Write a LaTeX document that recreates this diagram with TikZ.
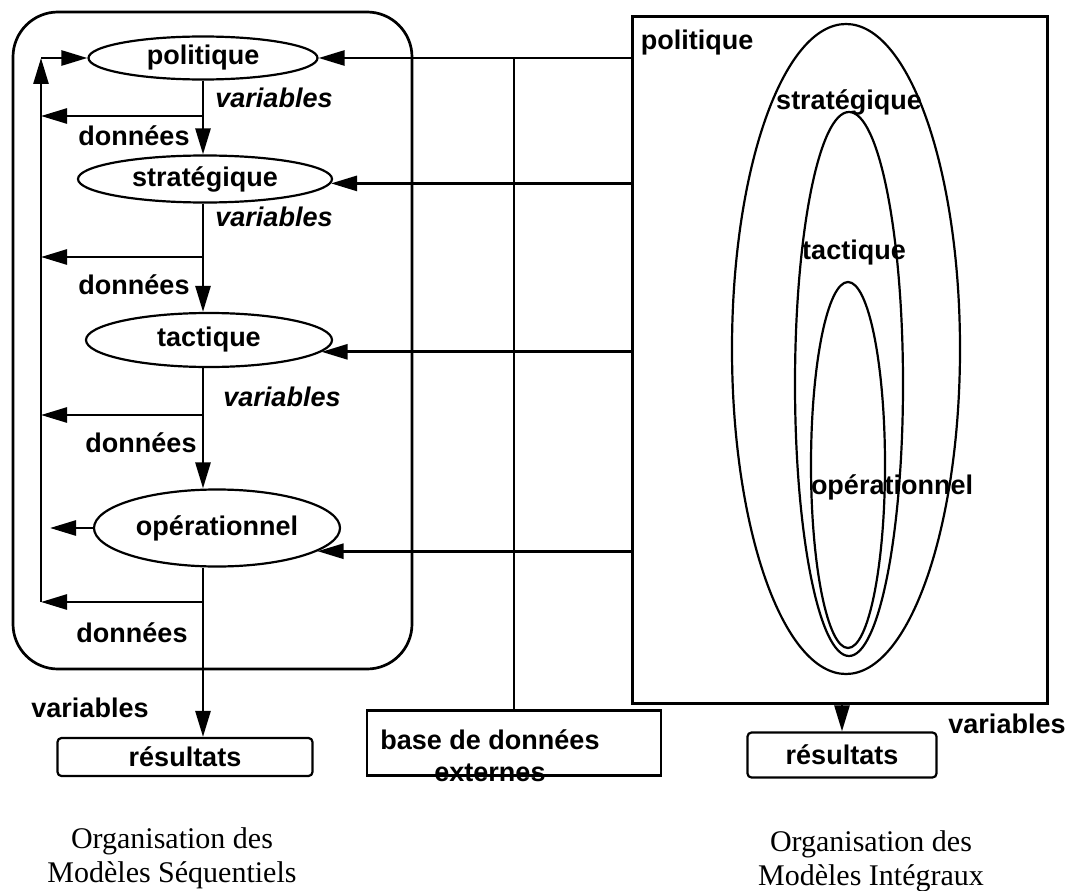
\documentclass[tikz,border=0pt]{standalone}
\usepackage{fontspec}
\setmainfont{Liberation Sans}
\newfontfamily\captfont{Liberation Serif}
\usetikzlibrary{shapes,arrows.meta}
\tikzstyle{lvl}=[draw, ellipse, line width=2.2pt, inner sep=0pt]
\tikzstyle{res}=[draw, rounded corners=4pt, line width=2.2pt, inner sep=0pt]
\tikzstyle{vlab}=[font=\fontsize{27}{30}\selectfont\bfseries\itshape, inner sep=0pt]
\tikzstyle{lab}=[inner sep=0pt]
\tikzstyle{capt}=[font=\fontsize{30}{34}\selectfont\captfont, align=center]
\tikzstyle{arr}=[->, line width=2.7pt]

\begin{document}
\begin{tikzpicture}[x=1pt,y=-1pt,>={Triangle[length=26pt,width=15pt]},
  font=\fontsize{27}{30}\selectfont\bfseries]
\useasboundingbox (0,0) rectangle (1074,891);

% modeles sequentiels
\draw[line width=2.7pt, rounded corners=45pt] (13,12) rectangle (412,669);
\node[lvl, minimum width=229pt, minimum height=43pt] at (203,58) (pol) {politique};
\node[lvl, minimum width=254pt, minimum height=47pt] at (205,179) (strat) {stratégique};
\node[lvl, minimum width=246pt, minimum height=54pt] at (209,340) (tact) {tactique};
\node[lvl, minimum width=246pt, minimum height=77pt] at (217,528) (opera) {opérationnel};
\node[res, minimum width=255pt, minimum height=38pt] at (185,757) (lres) {résultats};

\draw[arr] (pol.south) -- (pol.south |- strat.north);
\draw[arr] (pol.south |- strat.south) -- (pol.south |- tact.north);
\draw[arr] (pol.south |- tact.south) -- (pol.south |- opera.north);
\draw[arr] (pol.south |- opera.south) -- (pol.south |- lres.north);

\coordinate (b1) at (203,116);
\coordinate (b2) at (203,257);
\coordinate (b3) at (203,415);
\coordinate (b4) at (203,602);
\coordinate (fb) at (41,602);
\coordinate (optip) at (50,528);
\draw[arr] (b1) -- (b1 -| fb);
\draw[arr] (b2) -- (b2 -| fb);
\draw[arr] (b3) -- (b3 -| fb);
\draw[arr] (b4) -- (fb);
\draw[arr] (fb) -- (fb |- pol.west);
\draw[arr] (fb |- pol.west) -- (pol.west);
\draw[arr] (opera.west) -- (optip);

\node[vlab] at (274,98) (v1) {variables};
\node[vlab] at (274,217) (v2) {variables};
\node[vlab] at (282,397) (v3) {variables};
\node[lab] at (134,136) (d1) {données};
\node[lab] at (134,285) (d2) {données};
\node[lab] at (141,443) (d3) {données};
\node[lab] at (132,633) (d4) {données};
\node[lab] at (90,708) (v4) {variables};

% base de donnees externes
\node[lab, align=center, font=\fontsize{27}{32}\selectfont\bfseries] at (490,756) (dbtext) {base de données\\externes};
\node[draw, line width=2.7pt, minimum width=294pt, minimum height=65pt] at (514,743) (extdb) {};

% modeles integraux
\node[draw, line width=2.7pt, minimum width=415pt, minimum height=687pt] at (840,360) (rbox) {};
\draw[line width=2.2pt] (846,349) ellipse [x radius=114, y radius=325];
\draw[line width=2.2pt] (849,384) ellipse [x radius=54, y radius=272];
\draw[line width=2.2pt] (848,465) ellipse [x radius=37, y radius=183];
\node[lab] at (697,43) (rpol) {politique};
\node[lab] at (849,102) (rstrat) {stratégique};
\node[lab] at (854,253) (rtact) {tactique};
\node[lab] at (892,487) (ropera) {opérationnel};
\node[res, minimum width=189pt, minimum height=45pt] at (842,755) (rres) {résultats};
\node[lab] at (1007,724) (v5) {variables};
\draw[arr] (rres.north |- rbox.south) -- (rres.north);

\draw[line width=2.2pt] (extdb.north) -- (extdb.north |- pol.east);
\draw[arr] (rbox.west |- pol.east) -- (pol.east);
\draw[arr] (rbox.west |- strat.-2) -- (strat.-2);
\draw[arr] (rbox.west |- tact.-6) -- (tact.-6);
\draw[arr] (rbox.west |- opera.-13) -- (opera.-13);

\node[capt] at (172,858) (cseq) {Organisation des\\Modèles Séquentiels};
\node[capt] at (871,861) (cint) {Organisation des\\Modèles Intégraux};
\end{tikzpicture}
\end{document}
